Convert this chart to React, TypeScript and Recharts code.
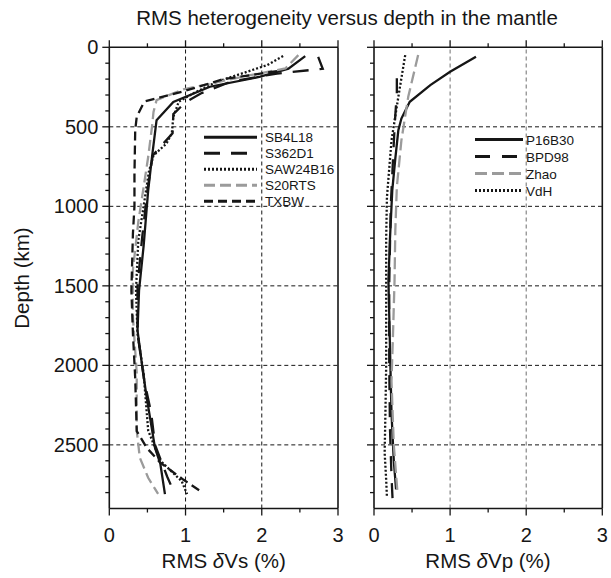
import React from 'react';
import { LineChart, Line, XAxis, YAxis, ReferenceLine } from 'recharts';

const FONT = '"Liberation Sans", Arial, Helvetica, sans-serif';
const INK = '#161616';
const GREY = '#9b9b9b';

// [depth km, RMS %]
const SB4L18 = [[55, 2.57], [135, 2.35], [185, 1.98], [248, 1.32], [343, 0.84], [458, 0.62], [690, 0.56], [900, 0.51], [1250, 0.45], [1530, 0.39], [1780, 0.37], [2000, 0.43], [2200, 0.49], [2520, 0.6], [2620, 0.67], [2810, 0.73]];
const S362D1 = [[60, 2.74], [135, 2.8], [165, 2.2], [215, 1.6], [290, 1.2], [345, 1.0], [420, 0.84], [540, 0.83], [680, 0.57], [900, 0.5], [1200, 0.43], [1500, 0.37], [1800, 0.37], [2100, 0.46], [2300, 0.55], [2500, 0.6], [2700, 0.76], [2810, 0.86]];
const SAW24B16 = [[55, 2.28], [112, 2.07], [217, 1.41], [290, 1.1], [343, 0.91], [437, 0.84], [541, 0.82], [605, 0.75], [680, 0.58], [780, 0.52], [1000, 0.45], [1215, 0.38], [1530, 0.35], [1800, 0.37], [2050, 0.45], [2410, 0.51], [2600, 0.67], [2728, 0.95], [2810, 1.02]];
const S20RTS = [[49, 2.48], [133, 2.31], [175, 1.85], [265, 0.97], [332, 0.62], [406, 0.58], [500, 0.56], [690, 0.51], [880, 0.45], [1100, 0.38], [1400, 0.31], [1700, 0.31], [2050, 0.36], [2410, 0.36], [2580, 0.4], [2707, 0.51], [2808, 0.64]];
const TXBW = [[150, 2.2], [200, 1.5], [280, 0.95], [340, 0.47], [360, 0.44], [437, 0.36], [520, 0.34], [800, 0.33], [1000, 0.33], [1170, 0.31], [1530, 0.29], [1800, 0.31], [2080, 0.34], [2413, 0.36], [2518, 0.49], [2612, 0.67], [2718, 0.97], [2796, 1.21]];

const P16B30 = [[59, 1.34], [154, 1.0], [238, 0.74], [343, 0.47], [448, 0.36], [521, 0.32], [700, 0.28], [900, 0.24], [1200, 0.21], [1470, 0.19], [1890, 0.21], [2300, 0.23], [2600, 0.26], [2780, 0.29]];
const BPD98 = [[195, 0.3], [290, 0.3], [426, 0.28], [510, 0.27], [700, 0.25], [1000, 0.22], [1500, 0.2], [2000, 0.2], [2400, 0.21], [2700, 0.23], [2900, 0.25]];
const ZHAO = [[49, 0.58], [311, 0.45], [585, 0.36], [879, 0.3], [1152, 0.28], [1467, 0.27], [1800, 0.25], [2100, 0.23], [2500, 0.26], [2810, 0.31]];
const VDH = [[49, 0.41], [311, 0.32], [585, 0.23], [942, 0.17], [1200, 0.16], [1600, 0.16], [2000, 0.16], [2300, 0.15], [2550, 0.14], [2720, 0.16], [2830, 0.17]];

const pctLabels = [0, 1, 2, 3];
const pctTicks = [0, 0.5, 1, 1.5, 2, 2.5, 3];
const depthLabels = [0, 500, 1000, 1500, 2000, 2500];
const depthTicks = Array.from({ length: 29 }, (_, i) => i * 100);

type Series = { name: string; pts: number[][]; color: string; dash?: string };

const vsSeries: Series[] = [
  { name: 'SB4L18', pts: SB4L18, color: INK },
  { name: 'S362D1', pts: S362D1, color: INK, dash: '16 11' },
  { name: 'SAW24B16', pts: SAW24B16, color: INK, dash: '2 2' },
  { name: 'S20RTS', pts: S20RTS, color: GREY, dash: '11 5' },
  { name: 'TXBW', pts: TXBW, color: INK, dash: '9 5' },
];
const vpSeries: Series[] = [
  { name: 'P16B30', pts: P16B30, color: INK },
  { name: 'BPD98', pts: BPD98, color: INK, dash: '15 12' },
  { name: 'Zhao', pts: ZHAO, color: GREY, dash: '12 5' },
  { name: 'VdH', pts: VDH, color: INK, dash: '2 2' },
];

const toRows = (pts: number[][]) => pts.map(([d, v]) => ({ d, v }));

const xTick = (dir: 1 | -1, labelled: boolean) => (p: any) => {
  const v = p.payload.value;
  const major = pctLabels.includes(v);
  return (
    <g>
      <line x1={p.x} x2={p.x} y1={p.y} y2={p.y + dir * (major ? 7 : 4)} stroke={INK} strokeWidth={1.3} />
      {labelled && major && (
        <text x={p.x} y={p.y + 33.5} textAnchor="middle" fontSize={20} fontFamily={FONT} fill={INK}>
          {v}
        </text>
      )}
    </g>
  );
};

const yTick = (dir: 1 | -1, labelled: boolean) => (p: any) => {
  const v = p.payload.value;
  const major = depthLabels.includes(v);
  return (
    <g>
      <line x1={p.x} x2={p.x + dir * (major ? 7 : 4)} y1={p.y} y2={p.y} stroke={INK} strokeWidth={1.3} />
      {labelled && major && (
        <text x={p.x - 11} y={p.y + 7} textAnchor="end" fontSize={20} fontFamily={FONT} fill={INK}>
          {v}
        </text>
      )}
    </g>
  );
};

const axisLine = { stroke: INK, strokeWidth: 1.6 };

interface PanelProps {
  width: number;
  margin: { top: number; right: number; bottom: number; left: number };
  leftWidth: number;
  rightWidth: number;
  series: Series[];
  depthText: boolean;
  vGridColor: string;
}

// vertical layout already runs the y axis top-down, so depth grows downward
const Panel: React.FC<PanelProps> = ({ width, margin, leftWidth, rightWidth, series, depthText, vGridColor }) => (
  <div style={{ position: 'absolute', left: 0, top: 0 }}>
    <LineChart width={width} height={578} layout="vertical" margin={margin}>
      <XAxis type="number" dataKey="v" domain={[0, 3]} allowDataOverflow ticks={pctTicks} interval={0}
        tickSize={0} tickMargin={0} tickLine={false} axisLine={axisLine} height={40} tick={xTick(1, true)} />
      <XAxis xAxisId="top" orientation="top" type="number" domain={[0, 3]} allowDataOverflow ticks={pctTicks}
        interval={0} tickSize={0} tickMargin={0} tickLine={false} axisLine={axisLine} height={10} tick={xTick(-1, false)} />
      <YAxis type="number" dataKey="d" domain={[0, 2900]} allowDataOverflow ticks={depthTicks} interval={0}
        tickSize={0} tickMargin={0} tickLine={false} axisLine={axisLine} width={leftWidth} tick={yTick(-1, depthText)} />
      <YAxis yAxisId="r" orientation="right" type="number" domain={[0, 2900]} allowDataOverflow
        ticks={depthTicks} interval={0} tickSize={0} tickMargin={0} tickLine={false} axisLine={axisLine}
        width={rightWidth} tick={yTick(1, false)} />
      {[1, 2].map((x) => (
        <ReferenceLine key={'x' + x} x={x} stroke={vGridColor} strokeDasharray="4 3" strokeWidth={1} />
      ))}
      {depthLabels.slice(1).map((y) => (
        <ReferenceLine key={'y' + y} y={y} stroke={INK} strokeDasharray="4 3" strokeWidth={1} />
      ))}
      {series.map((s) => (
        <Line key={s.name} data={toRows(s.pts)} dataKey="v" type="linear" stroke={s.color} strokeWidth={2.3}
          strokeDasharray={s.dash} dot={false} activeDot={false} isAnimationActive={false} />
      ))}
    </LineChart>
  </div>
);

const LegendBlock = ({ series, x1, x2, tx, ys }: { series: Series[]; x1: number; x2: number; tx: number; ys: number[] }) => (
  <g>
    {series.map((s, i) => (
      <g key={s.name}>
        <line x1={x1} x2={x2} y1={ys[i]} y2={ys[i]} stroke={s.color} strokeWidth={3} strokeDasharray={s.dash} />
        <text x={tx} y={ys[i] + 5} fontSize={13.5} fontFamily={FONT} fill={INK}>{s.name}</text>
      </g>
    ))}
  </g>
);

export default function App() {
  return (
    <div style={{ position: 'absolute', left: 0, top: 0, width: 611, height: 578, background: '#fff' }}>
      <Panel width={360} margin={{ top: 37.3, right: 12, bottom: 29.5, left: 49.3 }} leftWidth={60} rightWidth={10}
        series={vsSeries} depthText vGridColor={INK} />
      <Panel width={611} margin={{ top: 37.3, right: 3.7, bottom: 29.5, left: 364 }} leftWidth={10} rightWidth={5}
        series={vpSeries} depthText={false} vGridColor="#6f6f6f" />
      <svg width={611} height={578} style={{ position: 'absolute', left: 0, top: 0, pointerEvents: 'none' }}>
        <text x={347} y={25} textAnchor="middle" fontSize={20.5} fontFamily={FONT} fill={INK}>
          RMS heterogeneity versus depth in the mantle
        </text>
        <text x={29} y={278} transform="rotate(-90 29 278)" textAnchor="middle" fontSize={20.5} fontFamily={FONT} fill={INK}>
          Depth (km)
        </text>
        <text x={223.7} y={568} textAnchor="middle" fontSize={20.5} fontFamily={FONT} fill={INK}>
          RMS <tspan fontStyle="italic">δ</tspan>Vs (%)
        </text>
        <text x={488} y={568} textAnchor="middle" fontSize={20.5} fontFamily={FONT} fill={INK}>
          RMS <tspan fontStyle="italic">δ</tspan>Vp (%)
        </text>
        <LegendBlock series={vsSeries} x1={204} x2={257} tx={265} ys={[137.3, 153.3, 169.3, 185.3, 201.3]} />
        <LegendBlock series={vpSeries} x1={475} x2={523} tx={526} ys={[139.5, 156.5, 173.5, 190.5]} />
      </svg>
    </div>
  );
}
